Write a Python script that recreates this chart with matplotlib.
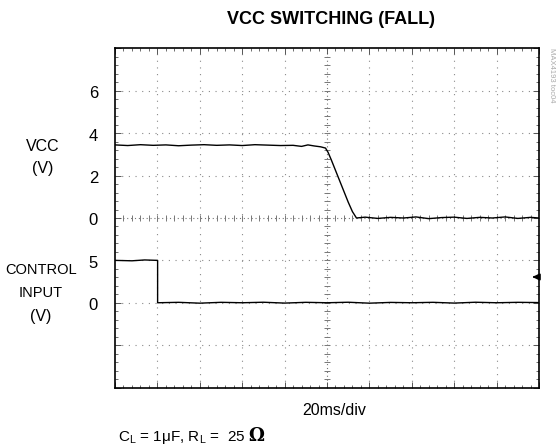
import matplotlib
matplotlib.use("Agg")
import matplotlib.pyplot as plt
import matplotlib.transforms as mtransforms
from matplotlib.ticker import MultipleLocator

plt.rcParams['font.family'] = ['Liberation Sans Narrow', 'Liberation Sans', 'DejaVu Sans']

# VCC trace (time in ms, 20 ms/div; volts, 2 V/div)
vcc_t = [0, 6, 12, 18, 24, 30, 36, 42, 48, 54, 60, 66, 72, 78, 84, 88, 91, 94, 97,
         99.3, 100.5, 102, 104, 106, 108, 110, 112, 113.9,
         118, 124, 130, 136, 142, 148, 154, 160, 166, 172, 178, 184, 190, 196, 200]
vcc_v = [3.45, 3.42, 3.46, 3.43, 3.45, 3.41, 3.44, 3.46, 3.43, 3.45, 3.42, 3.46, 3.44, 3.42, 3.43, 3.38, 3.45, 3.40, 3.36,
         3.30, 3.10, 2.75, 2.25, 1.75, 1.25, 0.75, 0.30, 0.0,
         0.04, -0.02, 0.03, 0.0, 0.05, -0.03, 0.02, 0.04, -0.02, 0.03, 0.0, 0.05, -0.02, 0.03, 0.0]

# CONTROL INPUT trace (volts, 5 V/div)
ctl_t = [0, 8, 14, 20.1, 20.1, 30, 40, 50, 60, 70, 80, 90, 100, 110, 120, 130, 140, 150, 160, 170, 180, 190, 200]
ctl_v = [5.0, 4.95, 5.05, 5.0, 0.0, 0.05, -0.05, 0.05, 0.0, 0.06, -0.04, 0.05, 0.0, 0.06, -0.05, 0.04, 0.0, 0.05, -0.04, 0.06, 0.0, 0.05, 0.02]

vcc_ticks = [0, 2, 4, 6]
ctl_ticks = [0, 5]

W, H = 558, 448
fig = plt.figure(figsize=(W / 100, H / 100), dpi=100)
L, R, T, B = 115, 539, 48.5, 387.5
ax = fig.add_axes([L / W, 1 - B / H, (R - L) / W, (B - T) / H])
ax.set_xlim(0, 200)
ax.set_ylim(-8, 8)

ax2 = ax.twinx()
ax2.set_ylim(-10, 30)

grid_kw = dict(color='#8a8a8a', lw=0.8, linestyle=(0, (1, 5)))
for x in range(20, 200, 20):
    if x != 100:
        ax.axvline(x, **grid_kw, zorder=1)
for y in range(-6, 8, 2):
    if y != 0:
        ax.axhline(y, **grid_kw, zorder=1)
center_kw = dict(color='#777777', lw=0.8, linestyle=(0, (1, 2.5)))
ax.axvline(100, **center_kw, zorder=1)
ax.axhline(0, **center_kw, zorder=1)
ax.plot([4 * i for i in range(1, 50)], [0] * 49, ls='none', marker='|', ms=4, mew=0.7, color='#777777', zorder=1)
ax.plot([100] * 39, [0.4 * i - 7.6 for i in range(39)], ls='none', marker='_', ms=4, mew=0.7, color='#777777', zorder=1)

ax.plot(vcc_t, vcc_v, color='black', lw=1.0, zorder=3)
ax2.plot(ctl_t, ctl_v, color='black', lw=1.0, zorder=3)

ax.xaxis.set_major_locator(MultipleLocator(20))
ax.xaxis.set_minor_locator(MultipleLocator(4))
ax.yaxis.set_major_locator(MultipleLocator(2))
ax.yaxis.set_minor_locator(MultipleLocator(0.4))
ax.tick_params(which='both', direction='in', top=True, right=True, colors='#555555',
               labelleft=False, labelbottom=False)
ax.tick_params(which='major', length=4, width=0.7)
ax.tick_params(which='minor', length=2.5, width=0.6)
ax2.set_yticks([])
for sp in ax.spines.values():
    sp.set_linewidth(1.2)
for sp in ax2.spines.values():
    sp.set_visible(False)

# left scale labels
off = mtransforms.ScaledTranslation(-0.17, -0.03, fig.dpi_scale_trans)
tr1 = mtransforms.blended_transform_factory(ax.transAxes, ax.transData) + off
for v in vcc_ticks:
    ax.text(0, v, str(v), transform=tr1, ha='right', va='center', fontsize=12)
tr2 = mtransforms.blended_transform_factory(ax2.transAxes, ax2.transData) + off
for v in ctl_ticks:
    ax2.text(0, v, str(v), transform=tr2, ha='right', va='center', fontsize=12)

def ft(x, y, s, **kw):
    return fig.text(x / W, 1 - y / H, s, **kw)

ft(43, 146, 'VCC', ha='center', va='center', fontsize=11.5)
ft(43, 169, '(V)', ha='center', va='center', fontsize=11.5)
ft(41, 270, 'CONTROL', ha='center', va='center', fontsize=10.5)
ft(41, 293, 'INPUT', ha='center', va='center', fontsize=10.5)
ft(41, 317, '(V)', ha='center', va='center', fontsize=11.5)

ft(331, 20, 'VCC SWITCHING (FALL)', ha='center', va='center', fontsize=13, fontweight='bold')
ft(334, 410, '20ms/div', ha='center', va='center', fontsize=11.5)
cap = ft(118, 437, r'C$_\mathregular{L}$ = 1μF, R$_\mathregular{L}$ =  25', ha='left', va='center', fontsize=11)
fig.canvas.draw()
bb = cap.get_window_extent()
fig.text((bb.x1 + 3) / W, 1 - 436 / H, 'Ω', ha='left', va='center', fontsize=13,
         fontweight='bold', family='DejaVu Serif')

ft(552, 48, 'MAX4193 toc04', ha='center', va='top', rotation=-90, fontsize=5.5, color='#aaaaaa')

ax.annotate('', xy=(0.978, 0.326), xytext=(1.0, 0.326), xycoords='axes fraction',
            arrowprops=dict(arrowstyle='-|>', color='black', lw=1.5, mutation_scale=9))

fig.savefig('out.png', dpi=100)
